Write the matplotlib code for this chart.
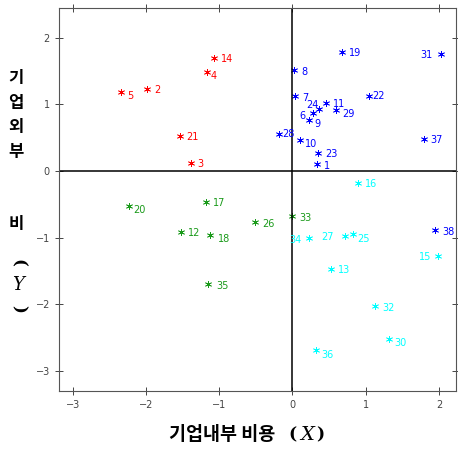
import matplotlib
matplotlib.use("Agg")
import matplotlib.pyplot as plt

labels = [1, 2, 3, 4, 5, 6, 7, 8, 9, 10, 11, 12, 13, 14, 15, 16, 17, 18, 19, 20,
          21, 22, 23, 24, 25, 26, 27, 28, 29, 30, 31, 32, 33, 34, 35, 36, 37, 38]
xs = [0.33, -1.99, -1.39, -1.17, -2.34, 0.28, 0.04, 0.02, 0.22, 0.10,
      0.46, -1.52, 0.53, -1.07, 1.99, 0.89, -1.18, -1.13, 0.67, -2.23,
      -1.54, 1.05, 0.35, 0.36, 0.83, -0.51, 0.72, -0.19, 0.60, 1.32,
      2.03, 1.13, 0.00, 0.22, -1.15, 0.32, 1.79, 1.95]
ys = [0.10, 1.23, 0.12, 1.48, 1.19, 0.87, 1.12, 1.51, 0.76, 0.47,
      1.02, -0.91, -1.47, 1.70, -1.27, -0.18, -0.46, -0.96, 1.79, -0.52,
      0.53, 1.12, 0.27, 0.93, -0.95, -0.77, -0.97, 0.55, 0.92, -2.52,
      1.76, -2.03, -0.68, -1.01, -1.69, -2.69, 0.48, -0.89]
groups = ['b', 'r', 'r', 'r', 'r', 'b', 'b', 'b', 'b', 'b',
          'b', 'g', 'c', 'r', 'c', 'c', 'g', 'g', 'b', 'g',
          'r', 'b', 'b', 'b', 'c', 'g', 'c', 'b', 'b', 'c',
          'b', 'c', 'g', 'c', 'g', 'c', 'b', 'b']
colors = {'r': '#ff0000', 'b': '#0000ff', 'g': '#1a9a1a', 'c': '#00ffff'}
xticks = [-3, -2, -1, 0, 1, 2]
yticks = [-3, -2, -1, 0, 1, 2]

# label offsets in points
offsets = {34: (-14, -1), 27: (-17, -1), 15: (-14, -1), 31: (-15, -1),
           5: (4, -3), 4: (3, -3), 6: (-9.5, -2.5), 24: (-9, 3), 9: (4, -3),
           29: (4, -3), 10: (4, -3), 36: (4, -3), 30: (4, -3), 18: (6, -3),
           20: (3, -3), 28: (3, 0), 35: (6, -2), 11: (5, -1), 25: (3, -3),
           22: (2, 0)}

fig = plt.figure(figsize=(4.58, 4.50), dpi=100)
ax = fig.add_axes([0.1288, 0.131, 0.9950 - 0.1288, 0.9816 - 0.131])

for lab, x, y, g in zip(labels, xs, ys, groups):
    c = colors[g]
    ax.plot(x, y, marker=(6, 2, 0), color=c, markersize=5, markeredgewidth=0.55,
            linestyle='none')
    dx, dy = offsets.get(lab, (5, -1))
    ax.annotate(str(lab), (x, y), xytext=(dx, dy), textcoords='offset points',
                color=c, fontsize=7, ha='left', va='center')

ax.axhline(0, color='black', lw=1.1)
ax.axvline(0, color='black', lw=1.1)
ax.set_xlim(-3.19, 2.23)
ax.set_ylim(-3.30, 2.44)
ax.set_xticks(xticks)
ax.set_yticks(yticks)
ax.tick_params(direction='inout', length=6, width=0.7, labelsize=7, labelcolor='#444444',
               color='#444444', top=True, right=True)
for s in ax.spines.values():
    s.set_color('#555555')
    s.set_linewidth(0.8)

W, H = 458.0, 450.0
kfont = ['Noto Sans CJK KR', 'DejaVu Sans']
fig.text(169 / W, 1 - 435 / H, '기업내부 비용', fontsize=13.3, fontweight='bold', family=kfont,
         ha='left', va='center')
fig.text(293 / W, 1 - 435 / H, '(', fontsize=12.5, fontweight='bold', family='DejaVu Serif',
         ha='center', va='center')
fig.text(307 / W, 1 - 435 / H, 'X', fontsize=14, style='italic', family='DejaVu Serif',
         ha='center', va='center')
fig.text(320 / W, 1 - 435 / H, ')', fontsize=12.5, fontweight='bold', family='DejaVu Serif',
         ha='center', va='center')

for ch, ypx in [('기', 78), ('업', 103), ('외', 127), ('부', 152), ('비', 224)]:
    fig.text(16 / W, 1 - ypx / H, ch, fontsize=12, fontweight='bold', family=kfont,
             ha='center', va='center')
fig.text(18 / W, 1 - 263 / H, '(', fontsize=12, fontweight='bold', family='DejaVu Serif',
         ha='center', va='center', rotation=-90)
fig.text(18 / W, 1 - 285 / H, 'Y', fontsize=13, style='italic', family='DejaVu Serif',
         ha='center', va='center')
fig.text(18 / W, 1 - 309 / H, ')', fontsize=12, fontweight='bold', family='DejaVu Serif',
         ha='center', va='center', rotation=-90)

fig.savefig('out.png', dpi=100)
